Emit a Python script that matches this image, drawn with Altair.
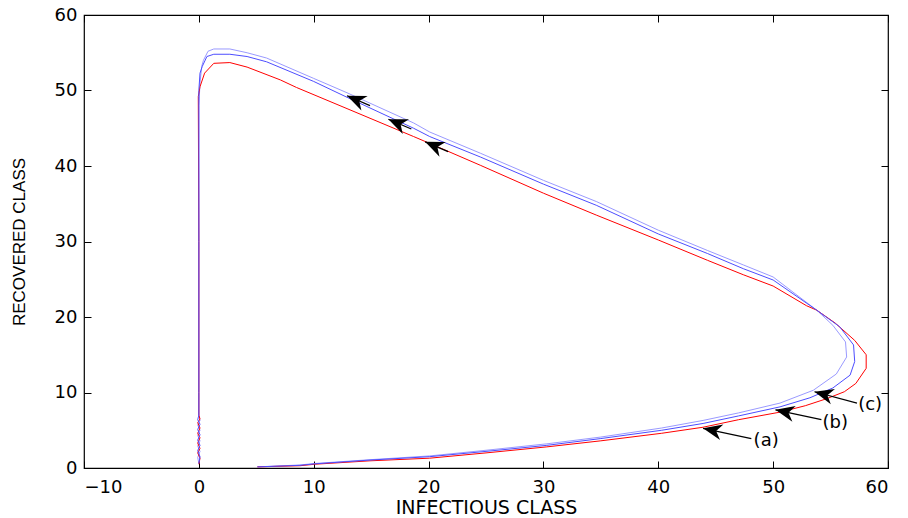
import math
import altair as alt
import pandas as pd

# ---- curve (a) red
xa = [5.1, 8.8, 10.1, 14.9, 20.1, 25.0, 30.3, 35.0, 40.3, 43.9, 47.0, 50.6, 52.8, 54.7, 56.2,
      57.2, 58.1, 58.1, 57.1, 55.4, 53.8, 52.9, 50.0, 47.4, 44.3, 40.0, 34.6, 30.0, 24.5, 20.7,
      18.7, 12.9, 8.5, 7.1, 4.2, 2.7, 1.3, 0.5, 0.1, -0.05, 0.0, 0.0, 0.0, 0.1, -0.1,
      0.1, -0.1, 0.1, -0.1, 0.1, -0.1, 0.1, 0.0]
ya = [0.15, 0.3, 0.5, 0.95, 1.3, 2.0, 2.8, 3.6, 4.6, 5.4, 6.4, 7.4, 8.25, 9.2, 10.1,
      11.2, 13.2, 15.0, 16.9, 19.2, 20.9, 21.5, 24.1, 25.6, 27.5, 30.2, 33.5, 36.4, 40.1, 42.6,
      43.9, 47.6, 50.4, 51.4, 53.1, 53.7, 53.6, 52.3, 50.5, 49.2, 30.0, 10.0, 7.0, 6.5, 6.0,
      5.3, 4.6, 4.0, 3.3, 2.6, 2.0, 1.3, 0.5]

# ---- curve (b) blue
xb = [5.1, 8.8, 10.1, 14.9, 20.1, 25.0, 30.3, 35.0, 40.3, 43.9, 47.0, 50.6, 53.2, 55.2, 56.7,
      57.1, 57.0, 55.8, 53.8, 50.0, 47.4, 44.3, 40.0, 34.6, 30.0, 24.5, 20.1, 18.7, 12.9, 10.0,
      5.9, 4.2, 2.7, 1.3, 0.7, 0.3, 0.1, 0.0, 0.0, 0.0, 0.0, -0.1, 0.1, -0.1, 0.1,
      -0.1, 0.1, -0.1, 0.1, 0.0]
yb = [0.15, 0.35, 0.55, 1.05, 1.5, 2.2, 3.0, 3.9, 5.0, 5.9, 6.9, 8.1, 9.3, 10.6, 12.3,
      14.1, 16.3, 18.7, 20.9, 24.9, 26.4, 28.4, 31.0, 34.8, 37.6, 41.2, 43.9, 45.0, 49.1, 51.2,
      53.8, 54.5, 54.8, 54.8, 54.5, 53.2, 52.3, 50.0, 30.0, 10.0, 7.0, 6.4, 5.8, 5.1, 4.4,
      3.7, 3.0, 2.3, 1.5, 0.6]

# ---- curve (c) light blue
xc = [5.1, 8.8, 10.1, 14.9, 20.1, 25.0, 30.3, 35.0, 40.3, 43.9, 47.0, 50.6, 53.5, 55.5, 56.4,
      56.3, 55.2, 53.8, 50.0, 47.4, 44.3, 40.0, 34.6, 30.0, 24.5, 20.1, 18.7, 12.9, 10.0, 5.9,
      4.2, 2.7, 1.3, 0.8, 0.4, 0.25, 0.1, 0.0, 0.0, 0.0, 0.0, 0.1, -0.1, 0.1, -0.1,
      0.1, -0.1, 0.1, -0.1, 0.0]
yc = [0.15, 0.4, 0.6, 1.1, 1.6, 2.35, 3.2, 4.1, 5.3, 6.3, 7.3, 8.6, 10.3, 12.45, 14.7,
      16.7, 18.9, 20.9, 25.3, 26.9, 28.8, 31.5, 35.3, 38.1, 41.7, 44.5, 45.7, 49.7, 51.6, 54.3,
      55.0, 55.5, 55.5, 55.2, 54.0, 53.2, 51.0, 48.0, 30.0, 10.0, 7.0, 6.3, 5.7, 5.0, 4.3,
      3.6, 2.9, 2.2, 1.4, 0.6]

# drawing order: light blue first, then red, then blue on top
series_names = ["c", "a", "b"]
series_colors = ["#9a9aff", "#ff0000", "#4d4dff"]

# ---- arrows (tip and tail, data units)
arrow_tip_x = [12.9, 16.5, 19.7, 43.9, 50.2, 53.6]
arrow_tip_y = [49.3, 46.2, 43.2, 5.25, 7.7, 10.1]
arrow_tail_x = [14.9, 18.5, 21.7, 48.1, 54.2, 57.3]
arrow_tail_y = [48.0, 44.9, 41.9, 3.9, 6.4, 8.6]

label_text = ["(a)", "(b)", "(c)"]
label_x = [48.3, 54.3, 57.4]
label_y = [3.6, 5.9, 8.3]

x_ticks = [-10, 0, 10, 20, 30, 40, 50, 60]
y_ticks = [0, 10, 20, 30, 40, 50, 60]

W, H = 804, 453
XMIN, XMAX, YMIN, YMAX = -10, 60, 0, 60
ppx = W / (XMAX - XMIN)
ppy = H / (YMAX - YMIN)

curves = {"a": (xa, ya), "b": (xb, yb), "c": (xc, yc)}
rows = []
for name in series_names:
    xs, ys = curves[name]
    for i, (xv, yv) in enumerate(zip(xs, ys)):
        rows.append({"x": xv, "y": yv, "series": name, "order": i})
df = pd.DataFrame(rows)

arr = pd.DataFrame({"tx": arrow_tip_x, "ty": arrow_tip_y, "ex": arrow_tail_x, "ey": arrow_tail_y})
arr["angle"] = [
    (math.degrees(math.atan2(-(ty - ey) * ppy, (tx - ex) * ppx)) + 360) % 360
    for tx, ty, ex, ey in zip(arr.tx, arr.ty, arr.ex, arr.ey)
]
labels = pd.DataFrame({"t": label_text, "x": label_x, "y": label_y})

xscale = alt.Scale(domain=[XMIN, XMAX], nice=False, zero=False)
yscale = alt.Scale(domain=[YMIN, YMAX], nice=False, zero=False)

TICK_FONT = "DejaVu Sans"

lines = alt.Chart(df).mark_line(strokeWidth=1, clip=True).encode(
    x=alt.X("x:Q", scale=xscale, axis=alt.Axis(
        orient="bottom", values=x_ticks, tickSize=7, offset=-7, labelPadding=10,
        domain=False, grid=False, tickColor="black", labelColor="black",
        labelFont=TICK_FONT, labelFontSize=18, title="INFECTIOUS CLASS",
        titleFont=TICK_FONT, titleFontSize=19, titleFontWeight="normal",
        titleColor="black", titlePadding=2)),
    y=alt.Y("y:Q", scale=yscale, axis=alt.Axis(
        orient="left", values=y_ticks, tickSize=7, offset=-7, labelPadding=7,
        domain=False, grid=False, tickColor="black", labelColor="black",
        labelFont=TICK_FONT, labelFontSize=18, title="RECOVERED CLASS",
        titleFont="Liberation Sans", titleFontSize=17, titleFontWeight="normal",
        titleColor="black", titlePadding=26)),
    color=alt.Color("series:N", scale=alt.Scale(domain=series_names, range=series_colors), legend=None),
    order="order:Q",
)

shafts = alt.Chart(arr).mark_rule(color="black", strokeWidth=1.2).encode(
    x=alt.X("tx:Q", scale=xscale, axis=None),
    y=alt.Y("ty:Q", scale=yscale, axis=None),
    x2="ex:Q",
    y2="ey:Q",
)

heads = alt.Chart(arr).mark_point(
    shape="M0,0 L-1,-0.42 L-0.7,0 L-1,0.42 Z",
    size=1450, filled=True, color="black", opacity=1, strokeWidth=0,
).encode(
    x=alt.X("tx:Q", scale=xscale, axis=alt.Axis(
        orient="top", values=x_ticks, tickSize=7, offset=-7, labels=False,
        domain=False, grid=False, tickColor="black", title=None)),
    y=alt.Y("ty:Q", scale=yscale, axis=alt.Axis(
        orient="right", values=y_ticks, tickSize=7, offset=-7, labels=False,
        domain=False, grid=False, tickColor="black", title=None)),
    angle=alt.Angle("angle:Q", scale=None),
)

texts = alt.Chart(labels).mark_text(
    align="left", baseline="middle", font=TICK_FONT, fontSize=18, color="black"
).encode(
    x=alt.X("x:Q", scale=xscale, axis=None),
    y=alt.Y("y:Q", scale=yscale, axis=None),
    text="t:N",
)

chart = alt.layer(lines, shafts, heads, texts).resolve_axis(
    x="independent", y="independent"
).properties(
    width=W, height=H,
    autosize=alt.AutoSizeParams(type="none"),
    padding={"left": 84, "top": 15, "right": 20, "bottom": 50},
    background="white",
).configure_view(stroke="black", strokeWidth=1.2)

chart.save("out.html", embed_options={"renderer": "svg", "actions": False})
